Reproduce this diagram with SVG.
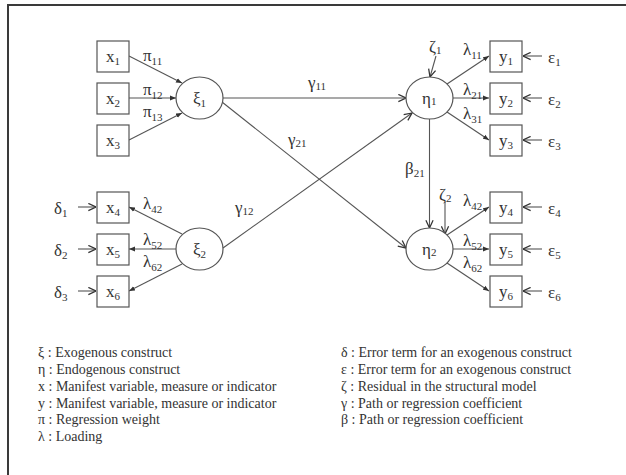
<svg xmlns="http://www.w3.org/2000/svg" width="626" height="475" viewBox="0 0 626 475" font-family="'Liberation Serif', 'DejaVu Serif', serif">
  <style>
    .frame { stroke: #3a3a3a; stroke-width: 2; fill: none; }
    .box { fill: #fff; stroke: #555; stroke-width: 1.2; }
    .lat { fill: #fff; stroke: #555; stroke-width: 1.2; }
    .ln { stroke: #555; stroke-width: 1.1; fill: none; }
    .fill { marker-end: url(#tri); }
    .open { marker-end: url(#chev); }
    text { font-family: 'Liberation Serif', 'DejaVu Serif', serif; fill: #333; }
    .sym { font-size: 17px; }
    .lbl { font-size: 17px; }
    .sub { font-size: 11px; }
    .leg { font-size: 14px; }
  </style>
  <defs>
    <marker id="tri" markerUnits="userSpaceOnUse" viewBox="0 0 10 10" refX="10" refY="5" markerWidth="6" markerHeight="6" orient="auto">
      <path d="M0,1 L10,5 L0,9 Z" fill="#333"/>
    </marker>
    <marker id="chev" markerUnits="userSpaceOnUse" viewBox="0 0 10 10" refX="9.5" refY="5" markerWidth="9" markerHeight="9" orient="auto">
      <path d="M1,1 L9.5,5 L1,9" fill="none" stroke="#333" stroke-width="1.4"/>
    </marker>
  </defs>

  <rect width="626" height="475" fill="#fff"/>
  <path class="frame" d="M8,475 L8,5 L626,5"/>

  <g id="connectors">
    <!-- formative indicators into xi1 -->
    <line class="ln fill" x1="129" y1="56" x2="182" y2="83"/>
    <line class="ln fill" x1="129" y1="98" x2="176" y2="98"/>
    <line class="ln fill" x1="129" y1="140" x2="182" y2="113"/>
    <!-- xi2 loadings -->
    <line class="ln fill" x1="182" y1="234" x2="129" y2="207"/>
    <line class="ln fill" x1="176" y1="249" x2="129" y2="249"/>
    <line class="ln fill" x1="182" y1="264" x2="129" y2="291"/>
    <!-- delta errors -->
    <line class="ln open" x1="78" y1="207" x2="96" y2="207"/>
    <line class="ln open" x1="78" y1="249" x2="96" y2="249"/>
    <line class="ln open" x1="78" y1="291" x2="96" y2="291"/>
    <!-- structural paths -->
    <line class="ln open" x1="223" y1="98" x2="406" y2="98"/>
    <line class="ln open" x1="222" y1="102" x2="406" y2="248"/>
    <line class="ln open" x1="223" y1="248" x2="412" y2="113"/>
    <line class="ln open" x1="429.5" y1="119" x2="429.5" y2="228"/>
    <!-- residuals -->
    <line class="ln open" x1="436" y1="56" x2="430" y2="77"/>
    <line class="ln open" x1="445" y1="202" x2="445" y2="234"/>
    <!-- eta1 loadings -->
    <line class="ln fill" x1="447" y1="84" x2="489" y2="56"/>
    <line class="ln fill" x1="453" y1="98" x2="489" y2="98"/>
    <line class="ln fill" x1="447" y1="112" x2="489" y2="140"/>
    <!-- eta2 loadings -->
    <line class="ln fill" x1="447" y1="235" x2="489" y2="207"/>
    <line class="ln fill" x1="453" y1="249" x2="489" y2="249"/>
    <line class="ln fill" x1="447" y1="263" x2="489" y2="291"/>
    <!-- epsilon errors -->
    <line class="ln open" x1="542" y1="56" x2="523" y2="56"/>
    <line class="ln open" x1="542" y1="98" x2="523" y2="98"/>
    <line class="ln open" x1="542" y1="140" x2="523" y2="140"/>
    <line class="ln open" x1="542" y1="207" x2="523" y2="207"/>
    <line class="ln open" x1="542" y1="249" x2="523" y2="249"/>
    <line class="ln open" x1="542" y1="291" x2="523" y2="291"/>
  </g>

  <g id="path-labels">
    <text class="lbl" x="143" y="61">π<tspan class="sub" dy="4">11</tspan></text>
    <text class="lbl" x="143" y="95">π<tspan class="sub" dy="4">12</tspan></text>
    <text class="lbl" x="143" y="117">π<tspan class="sub" dy="4">13</tspan></text>
    <text class="lbl" x="143" y="209">λ<tspan class="sub" dy="4">42</tspan></text>
    <text class="lbl" x="143" y="245">λ<tspan class="sub" dy="4">52</tspan></text>
    <text class="lbl" x="143" y="267">λ<tspan class="sub" dy="4">62</tspan></text>
    <text class="lbl" x="308" y="88">γ<tspan class="sub" dy="2">11</tspan></text>
    <text class="lbl" x="288" y="145">γ<tspan class="sub" dy="2">21</tspan></text>
    <text class="lbl" x="235" y="213">γ<tspan class="sub" dy="2">12</tspan></text>
    <text class="lbl" x="405" y="174">β<tspan class="sub" dy="3">21</tspan></text>
    <text class="lbl" x="429" y="52">ζ<tspan class="sub" dy="2">1</tspan></text>
    <text class="lbl" x="439" y="200">ζ<tspan class="sub" dy="2">2</tspan></text>
    <text class="lbl" x="463" y="55">λ<tspan class="sub" dy="4">11</tspan></text>
    <text class="lbl" x="463" y="95">λ<tspan class="sub" dy="4">21</tspan></text>
    <text class="lbl" x="463" y="119">λ<tspan class="sub" dy="4">31</tspan></text>
    <text class="lbl" x="463" y="206">λ<tspan class="sub" dy="4">42</tspan></text>
    <text class="lbl" x="463" y="246">λ<tspan class="sub" dy="4">52</tspan></text>
    <text class="lbl" x="463" y="268">λ<tspan class="sub" dy="4">62</tspan></text>
    <text class="lbl" x="54" y="214">δ<tspan class="sub" dy="3">1</tspan></text>
    <text class="lbl" x="54" y="256">δ<tspan class="sub" dy="3">2</tspan></text>
    <text class="lbl" x="54" y="298">δ<tspan class="sub" dy="3">3</tspan></text>
    <text class="lbl" x="548" y="63">ε<tspan class="sub" dy="3">1</tspan></text>
    <text class="lbl" x="548" y="105">ε<tspan class="sub" dy="3">2</tspan></text>
    <text class="lbl" x="548" y="147">ε<tspan class="sub" dy="3">3</tspan></text>
    <text class="lbl" x="548" y="214">ε<tspan class="sub" dy="3">4</tspan></text>
    <text class="lbl" x="548" y="256">ε<tspan class="sub" dy="3">5</tspan></text>
    <text class="lbl" x="548" y="298">ε<tspan class="sub" dy="3">6</tspan></text>
  </g>

  <g id="x1"><rect class="box" x="97" y="41" width="32" height="31"/><text class="sym" x="106" y="62">x<tspan class="sub" dy="3">1</tspan></text></g>
  <g id="x2"><rect class="box" x="97" y="83" width="32" height="31"/><text class="sym" x="106" y="104">x<tspan class="sub" dy="3">2</tspan></text></g>
  <g id="x3"><rect class="box" x="97" y="125" width="32" height="31"/><text class="sym" x="106" y="146">x<tspan class="sub" dy="3">3</tspan></text></g>
  <g id="x4"><rect class="box" x="97" y="192" width="32" height="31"/><text class="sym" x="106" y="213">x<tspan class="sub" dy="3">4</tspan></text></g>
  <g id="x5"><rect class="box" x="97" y="234" width="32" height="31"/><text class="sym" x="106" y="255">x<tspan class="sub" dy="3">5</tspan></text></g>
  <g id="x6"><rect class="box" x="97" y="276" width="32" height="31"/><text class="sym" x="106" y="297">x<tspan class="sub" dy="3">6</tspan></text></g>

  <g id="xi1"><ellipse class="lat" cx="199.5" cy="98" rx="23.5" ry="21"/><text class="sym" x="193" y="104">ξ<tspan class="sub" dy="3">1</tspan></text></g>
  <g id="xi2"><ellipse class="lat" cx="199.5" cy="249" rx="23.5" ry="21"/><text class="sym" x="193" y="255">ξ<tspan class="sub" dy="3">2</tspan></text></g>
  <g id="eta1"><ellipse class="lat" cx="429.5" cy="98" rx="23.5" ry="21"/><text class="sym" x="422" y="104">η<tspan class="sub" dy="1">1</tspan></text></g>
  <g id="eta2"><ellipse class="lat" cx="429.5" cy="249" rx="23.5" ry="21"/><text class="sym" x="422" y="255">η<tspan class="sub" dy="1">2</tspan></text></g>

  <g id="y1"><rect class="box" x="490" y="41" width="32" height="31"/><text class="sym" x="499" y="62">y<tspan class="sub" dy="3">1</tspan></text></g>
  <g id="y2"><rect class="box" x="490" y="83" width="32" height="31"/><text class="sym" x="499" y="104">y<tspan class="sub" dy="3">2</tspan></text></g>
  <g id="y3"><rect class="box" x="490" y="125" width="32" height="31"/><text class="sym" x="499" y="146">y<tspan class="sub" dy="3">3</tspan></text></g>
  <g id="y4"><rect class="box" x="490" y="192" width="32" height="31"/><text class="sym" x="499" y="213">y<tspan class="sub" dy="3">4</tspan></text></g>
  <g id="y5"><rect class="box" x="490" y="234" width="32" height="31"/><text class="sym" x="499" y="255">y<tspan class="sub" dy="3">5</tspan></text></g>
  <g id="y6"><rect class="box" x="490" y="276" width="32" height="31"/><text class="sym" x="499" y="297">y<tspan class="sub" dy="3">6</tspan></text></g>

  <g id="legend-left">
    <text class="leg" x="38" y="357">ξ : Exogenous construct</text>
    <text class="leg" x="38" y="374">η : Endogenous construct</text>
    <text class="leg" x="38" y="391">x : Manifest variable, measure or indicator</text>
    <text class="leg" x="38" y="408">y : Manifest variable, measure or indicator</text>
    <text class="leg" x="38" y="424">π : Regression weight</text>
    <text class="leg" x="38" y="441">λ : Loading</text>
  </g>
  <g id="legend-right">
    <text class="leg" x="341" y="357">δ : Error term for an exogenous construct</text>
    <text class="leg" x="341" y="374">ε : Error term for an exogenous construct</text>
    <text class="leg" x="341" y="391">ζ : Residual in the structural model</text>
    <text class="leg" x="341" y="408">γ : Path or regression coefficient</text>
    <text class="leg" x="341" y="424">β : Path or regression coefficient</text>
  </g>
</svg>
